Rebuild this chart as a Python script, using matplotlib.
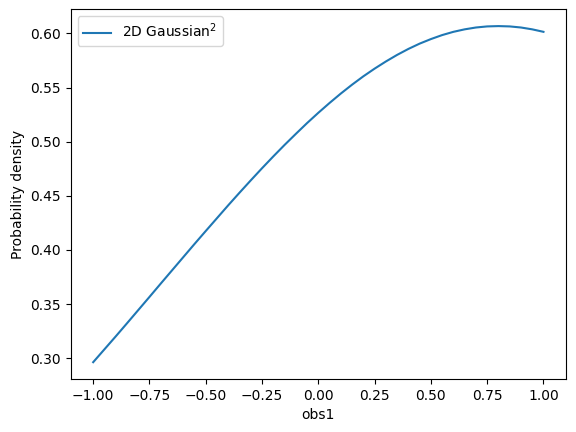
import numpy as np
import matplotlib.pyplot as plt

# values, every 0.05 in obs1
obs1 = [-1.00, -0.95, -0.90, -0.85, -0.80, -0.75, -0.70, -0.65, -0.60, -0.55,
        -0.50, -0.45, -0.40, -0.35, -0.30, -0.25, -0.20, -0.15, -0.10, -0.05,
        0.00, 0.05, 0.10, 0.15, 0.20, 0.25, 0.30, 0.35, 0.40, 0.45,
        0.50, 0.55, 0.60, 0.65, 0.70, 0.75, 0.80, 0.85, 0.90, 0.95, 1.00]
density = [0.2963, 0.3082, 0.3201, 0.3322, 0.3444, 0.3566, 0.3689, 0.3811,
           0.3933, 0.4055, 0.4175, 0.4294, 0.4413, 0.4529, 0.4643, 0.4755,
           0.4864, 0.4970, 0.5072, 0.5172, 0.5267, 0.5358, 0.5445, 0.5527,
           0.5604, 0.5675, 0.5741, 0.5802, 0.5857, 0.5906, 0.5948, 0.5985,
           0.6015, 0.6038, 0.6055, 0.6065, 0.6068, 0.6065, 0.6055, 0.6038,
           0.6015]

fig, ax = plt.subplots(figsize=(5.76, 4.32), dpi=100)
fig.subplots_adjust(left=0.1227, right=0.9826, top=0.9785, bottom=0.1227)
ax.plot(obs1, density, label=r"2D Gaussian$^2$")
ax.set_xlabel("obs1")
ax.set_ylabel("Probability density")
ax.legend(loc="upper left")
fig.savefig("out.png")
